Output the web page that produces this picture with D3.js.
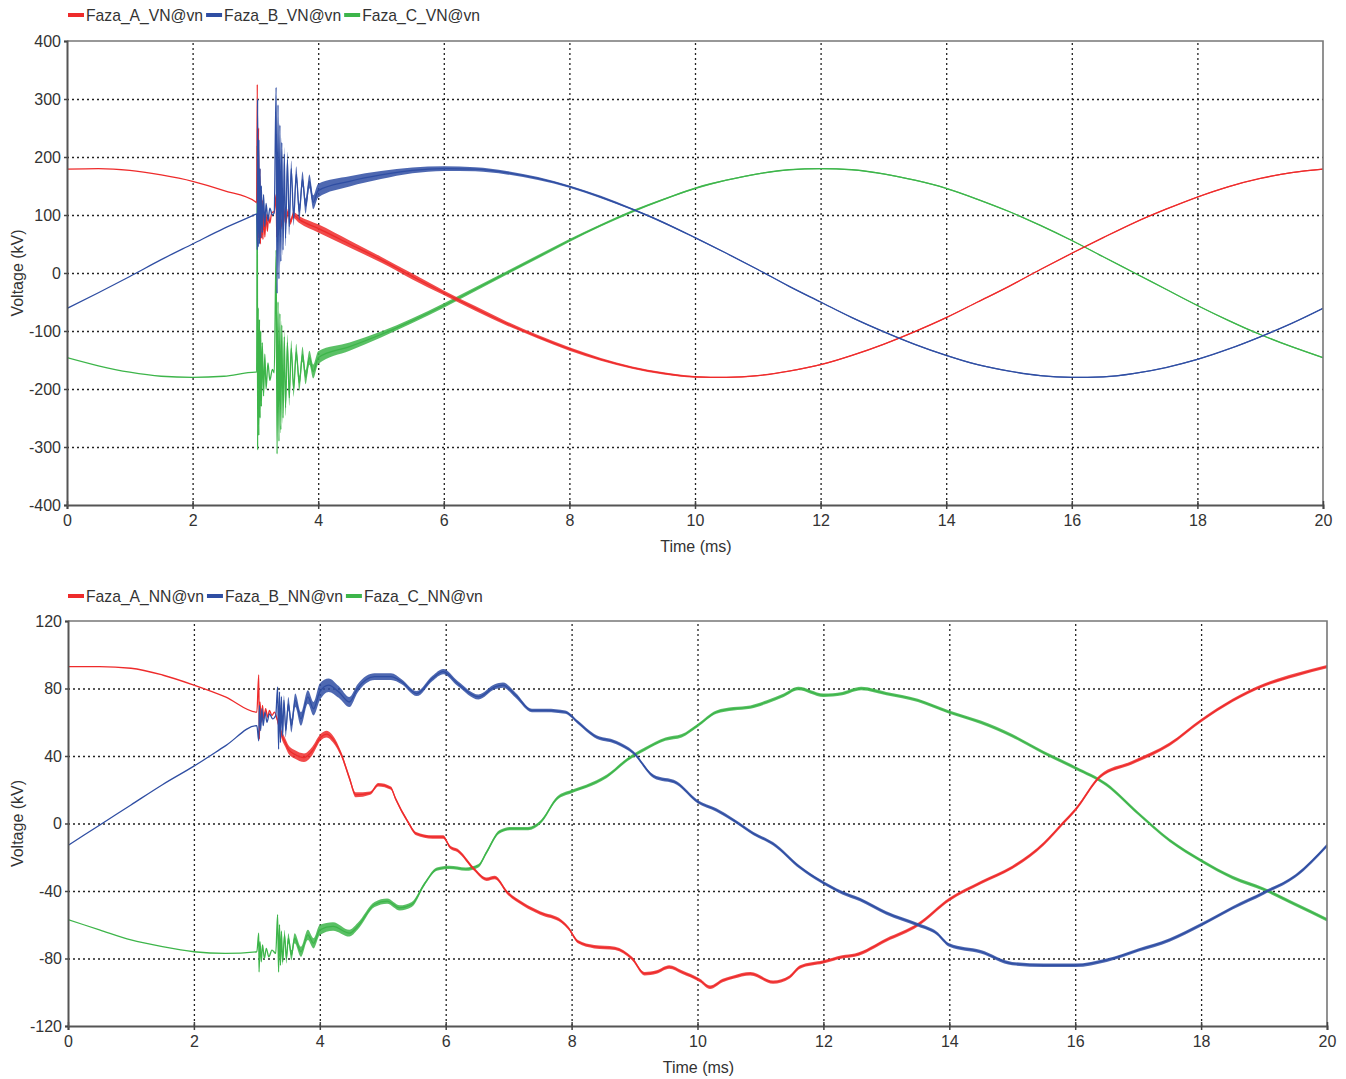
<!DOCTYPE html>
<html>
<head>
<meta charset="utf-8">
<script src="https://cdn.jsdelivr.net/npm/d3@7"></script>
<style>
  body { margin: 0; background: #fff; }
  svg text { font-family: "Liberation Sans", Arial, sans-serif; fill: #333; }
</style>
</head>
<body>
<svg id="chart" width="1346" height="1079"></svg>
<script>
// time axis (ms)
var timeTicks = [0, 2, 4, 6, 8, 10, 12, 14, 16, 18, 20];
var vnTicks = [-400, -300, -200, -100, 0, 100, 200, 300, 400];
var nnTicks = [-120, -80, -40, 0, 40, 80, 120];

var vnNames = ['Faza_A_VN@vn', 'Faza_B_VN@vn', 'Faza_C_VN@vn'];
var nnNames = ['Faza_A_NN@vn', 'Faza_B_NN@vn', 'Faza_C_NN@vn'];

// [time ms, kV, noise half-band kV]
var vnA = [
  [0,179,0],[0.5,180,0],[1,177,0],[1.5,169,0],[2,158,0],[2.5,142,0],[3,123,0],[3.02,121,0],
  [3.03,325,0],[3.04,60,0],[3.05,250,0],[3.06,55,0],[3.07,180,0],[3.08,50,0],[3.09,140,0],[3.1,60,0],
  [3.11,125,0],[3.12,58,0],[3.13,112,0],[3.15,62,0],[3.17,102,0],[3.19,72,0],[3.21,98,0],[3.23,86,0],
  [3.26,104,0],[3.3,106,0],[3.33,135,0],[3.34,62,0],[3.35,125,2],[3.37,70,3],[3.39,118,4],[3.42,80,5],
  [3.45,112,5],[3.48,86,5],[3.52,106,5],[3.56,88,5],[3.6,100,5],[3.7,92,6],
  [4,77,7],[4.5,50,6],[5,23,5],[5.5,-6,5],[6,-34,4],[6.5,-61,4],[7,-87,3.5],[7.5,-110,3],[8,-131,3],
  [8.5,-149,2.5],[9,-163,2],[9.5,-173,2],[10,-179,1.5],[10.5,-180,1],[11,-177,1],[11.5,-169,1],
  [12,-158,1],[12.5,-142,1],[13,-123,1],[13.5,-101,1],[14,-77,1],[14.5,-50,1],[15,-23,1],[15.5,6,1],
  [16,34,1],[16.5,61,1],[17,87,1],[17.5,110,1],[18,131,1],[18.5,149,1],[19,163,1],[19.5,173,1],[20,179,1]
];
var vnB = [
  [0,-61,0],[0.5,-34,0],[1,-6,0],[1.5,23,0],[2,50,0],[2.5,77,0],[3,101,0],[3.02,102,0],
  [3.03,40,0],[3.035,300,0],[3.045,45,0],[3.055,230,0],[3.065,50,0],[3.075,180,0],[3.085,60,0],
  [3.095,150,0],[3.11,70,0],[3.13,135,0],[3.15,80,0],[3.17,120,0],[3.2,90,0],[3.23,112,0],[3.27,100,0],
  [3.3,104,0],[3.33,320,0],[3.345,-35,0],[3.36,290,0],[3.375,-10,0],[3.39,255,4],[3.405,20,6],
  [3.42,225,8],[3.44,40,10],[3.46,205,12],[3.48,60,14],[3.51,195,14],[3.54,80,14],[3.57,180,14],[3.61,95,14],
  [3.65,170,14],[3.7,105,14],[3.75,162,13],[3.8,115,13],[3.86,158,12],[3.92,122,12],[4,142,12],
  [4.5,158,9],[5,169,7],[5.5,177,5],[6,180,4],[6.5,179,3.5],[7,173,3],[7.5,163,2.5],[8,149,2],
  [8.5,131,2],[9,110,1.5],[9.5,87,1.5],[10,61,1],[10.5,34,1],[11,6,1],[11.5,-23,1],[12,-50,1],
  [12.5,-77,1],[13,-101,1],[13.5,-123,1],[14,-142,1],[14.5,-158,1],[15,-169,1],[15.5,-177,1],
  [16,-180,1],[16.5,-179,1],[17,-173,1],[17.5,-163,1],[18,-149,1],[18.5,-131,1],[19,-110,1],
  [19.5,-87,1],[20,-61,1]
];
var vnC = [
  [0,-146,0],[0.5,-160,0],[1,-171,0],[1.5,-178,0],[2,-180,0],[2.5,-178,0],[3,-171,0],[3.02,-171,0],
  [3.03,220,0],[3.035,-305,0],[3.045,-60,0],[3.055,-280,0],[3.065,-80,0],[3.075,-250,0],[3.085,-100,0],
  [3.095,-230,0],[3.11,-120,0],[3.13,-212,0],[3.15,-140,0],[3.17,-200,0],[3.2,-155,0],[3.23,-185,0],
  [3.27,-166,0],[3.3,-172,0],[3.33,40,0],[3.345,-312,0],[3.36,-50,0],[3.375,-290,0],[3.39,-70,4],
  [3.405,-270,6],[3.42,-90,8],[3.44,-250,10],[3.46,-110,12],[3.48,-232,14],[3.51,-120,14],[3.54,-215,14],
  [3.57,-130,14],[3.61,-200,14],[3.65,-136,14],[3.7,-190,13],[3.75,-140,13],[3.8,-180,12],[3.86,-146,12],
  [3.92,-170,12],[4,-146,11],
  [4.5,-127,7],[5,-106,5],[5.5,-82,4],[6,-56,4],[6.5,-28,3.5],[7,0,3],[7.5,28,3],[8,56,2.5],
  [8.5,82,2],[9,106,2],[9.5,127,1.5],[10,146,1.5],[10.5,160,1],[11,171,1],[11.5,178,1],[12,180,1],
  [12.5,178,1],[13,171,1],[13.5,160,1],[14,146,1],[14.5,127,1],[15,106,1],[15.5,82,1],[16,56,1],
  [16.5,28,1],[17,0,1],[17.5,-28,1],[18,-56,1],[18.5,-82,1],[19,-106,1],[19.5,-127,1],[20,-146,1]
];

var nnA = [
  [0,93,0],[0.5,93,0],[1,92,0],[1.5,88,0],[2,82,0],[2.5,75,0],[3,66,0],
  [3.03,88,0],[3.04,50,0],[3.05,72,0],[3.07,60,0],[3.09,70,0],[3.11,62,0],[3.14,68,0],[3.17,63,0],
  [3.2,67,0],[3.24,64,0],[3.28,66,0],[3.32,62,1],[3.35,58,2],[3.4,52,2.5],[3.45,48,2.5],[3.5,44,2.5],
  [3.6,41,2.5],[3.75,39,2.5],[3.88,43,2.5],[4.01,51,2],[4.11,53,2],[4.21,50,2],[4.34,41,1.5],[4.47,27,1.5],
  [4.57,17,1.5],[4.8,18,1],[4.93,23,1],[5.13,21,1],[5.2,15,1],[5.4,1,1],[5.53,-6,1],
  [5.79,-8,1],[5.96,-8,1],[6.07,-14,1],[6.19,-16,1],[6.45,-27,1],[6.65,-33,1],
  [6.78,-32,1],[6.98,-41,1],[7.24,-48,1],[7.5,-53,1],[7.84,-58,1],[7.95,-62,1],
  [8.1,-70,1],[8.36,-73,1],[8.69,-74,1],[8.96,-80,1],[9.16,-89,1],[9.35,-88,1],
  [9.55,-85,1],[9.75,-88,1],[10.04,-93,1],[10.2,-97,1],[10.4,-93,1],[10.57,-91,1],
  [10.84,-89,1],[11.2,-94,1],[11.46,-91,1],[11.63,-85,1],[12,-82,1],[12.3,-79,1],
  [12.5,-78,1],[13,-69,1],[13.5,-60,1],[14,-45,1],[14.5,-35,1],[15,-26,1],[15.5,-12,1],
  [15.8,0,1],[16,8,1],[16.4,28,1],[16.9,36,1],[17.5,47,1],[18,61,1],[18.5,73,1],
  [19,82,1],[19.5,88,1],[20,93,1]
];
var nnB = [
  [0,-13,0],[0.5,-1,0],[1,11,0],[1.5,23,0],[2,34,0],[2.5,46,0],[3,58,0],
  [3.03,49,0],[3.04,70,0],[3.06,55,0],[3.08,68,0],[3.1,58,0],[3.13,66,0],[3.16,60,0],[3.2,65,0],
  [3.25,62,0],[3.3,64,0],[3.33,81,0],[3.345,44,0],[3.36,78,0],[3.375,48,0],[3.39,75,1],[3.41,52,2],
  [3.43,73,3],[3.46,55,4],[3.5,71,4],[3.55,58,4],[3.61,73,4],[3.7,62,4],[3.81,75,4],[3.9,68,4],
  [4,78,5],[4.14,82,4],[4.3,78,3.5],[4.47,72,3],[4.6,80,2.5],[4.87,87,2],[5.13,87,2],[5.3,84,1.5],
  [5.54,77,1.5],[5.79,86,1.5],[5.96,90,1.5],[6.19,83,1.5],[6.52,75,1.5],[6.78,81,1.5],[6.91,82,1.5],[7.11,76,1.5],
  [7.37,67,1],[7.6,67,1],[7.9,66,1],[8.1,60,1],[8.36,52,1],[8.71,48,1],[8.98,42,1],
  [9.3,28,1],[9.67,24,1],[10,13,1],[10.3,8,1],[10.57,2,1],[10.89,-6,1],[11.2,-12,1],
  [11.63,-26,1],[11.95,-34,1],[12.3,-41,1],[12.58,-45,1],[13,-53,1],[13.5,-60,1],
  [13.8,-65,1],[14,-72,1],[14.5,-76,1],[15,-83,1],[15.5,-84,1],[16,-84,1],[16.5,-81,1],
  [17,-75,1],[17.5,-69,1],[18,-60,1],[18.5,-50,1],[19,-41,1],[19.5,-31,1],[20,-13,1]
];
var nnC = [
  [0,-57,0],[0.5,-63,0],[1,-69,0],[1.5,-73,0],[2,-76,0],[2.5,-77,0],[3,-76,0],
  [3.03,-65,0],[3.035,-88,0],[3.05,-70,0],[3.07,-82,0],[3.09,-72,0],[3.12,-80,0],[3.15,-74,0],
  [3.19,-79,0],[3.24,-75,0],[3.3,-77,0],[3.33,-54,0],[3.345,-88,0],[3.36,-60,0],[3.375,-84,0],
  [3.39,-64,1],[3.41,-82,2],[3.44,-66,3],[3.47,-80,3],[3.5,-68,3],[3.55,-78,3],[3.6,-68,3],[3.7,-76,3],
  [3.81,-66,3],[3.9,-71,3],[4,-63,3],[4.21,-61,2.5],[4.47,-65,2],[4.6,-61,2],[4.87,-48,1.5],[5.07,-46,1.5],
  [5.27,-50,1.5],[5.46,-48,1.5],[5.66,-36,1],[5.86,-27,1],[6.06,-26,1],[6.32,-27,1],[6.52,-25,1],
  [6.65,-17,1],[6.85,-5,1],[7.04,-3,1],[7.31,-3,1],[7.51,1,1],[7.77,15,1],[8,19,1],
  [8.23,22,1],[8.56,28,1],[8.89,38,1],[9.16,44,1],[9.49,50,1],[9.75,52,1],[10,58,1],
  [10.3,66,1],[10.57,68,1],[10.84,69,1],[11.1,72,1],[11.37,76,1],[11.6,80,1],[12,76,1],
  [12.3,77,1],[12.6,80,1],[13,77,1],[13.5,73,1],[14,66,1],[14.5,60,1],[15,52,1],
  [15.5,42,1],[16,33,1],[16.5,23,1],[17,6,1],[17.5,-10,1],[18,-22,1],[18.5,-32,1],
  [19,-39,1],[19.5,-48,1],[20,-57,1]
];

var colors = ['#ee2b2b', '#2f4ea3', '#3db54a'];
var drawOrder = [2, 0, 1];

var svg = d3.select('#chart');

var panels = [
  { id: 'vn', left: 67, right: 1323, top: 41, bottom: 505, legendY: 15, ticks: vnTicks,
    names: vnNames, series: [vnA, vnB, vnC] },
  { id: 'nn', left: 68, right: 1327, top: 621, bottom: 1026, legendY: 596, ticks: nnTicks,
    names: nnNames, series: [nnA, nnB, nnC] }
];

panels.forEach(drawPanel);

function drawPanel(p) {
  var width = p.right - p.left;
  var height = p.bottom - p.top;

  var x = d3.scaleLinear().domain([0, 20]).range([p.left, p.right]);
  var y = d3.scaleLinear().domain([p.ticks[0], p.ticks[p.ticks.length - 1]]).range([p.bottom, p.top]);

  var g = svg.append('g');

  //--- GRID
  var gx = g.append('g')
    .attr('transform', 'translate(0,' + p.bottom + ')')
    .call(d3.axisBottom(x).tickValues(timeTicks.slice(1, -1)).tickSize(-height).tickFormat(''));
  var gy = g.append('g')
    .attr('transform', 'translate(' + p.left + ',0)')
    .call(d3.axisLeft(y).tickValues(p.ticks.slice(1, -1)).tickSize(-width).tickFormat(''));
  [gx, gy].forEach(function(s) {
    s.select('.domain').remove();
    s.selectAll('line')
      .attr('stroke', '#222')
      .attr('stroke-width', 1.3)
      .attr('stroke-dasharray', '2,3');
  });

  //--- CLIP
  g.append('clipPath').attr('id', 'clip-' + p.id)
    .append('rect').attr('x', p.left).attr('y', p.top).attr('width', width).attr('height', height);

  var area = d3.area()
    .x(function(d) { return x(d[0]); })
    .y0(function(d) { return y(d[1] - d[2]); })
    .y1(function(d) { return y(d[1] + d[2]); })
    .curve(d3.curveMonotoneX);
  var line = d3.line()
    .x(function(d) { return x(d[0]); })
    .y(function(d) { return y(d[1]); })
    .curve(d3.curveMonotoneX);

  var plot = g.append('g').attr('clip-path', 'url(#clip-' + p.id + ')');
  drawOrder.forEach(function(i) {
    plot.append('path')
      .datum(p.series[i])
      .attr('d', area)
      .attr('fill', colors[i])
      .attr('opacity', 0.85);
    plot.append('path')
      .datum(p.series[i])
      .attr('d', line)
      .attr('fill', 'none')
      .attr('stroke', colors[i])
      .attr('stroke-width', 1.3);
  });

  //--- FRAME
  g.append('path')
    .attr('d', 'M' + p.left + ',' + p.top + 'H' + p.right + 'V' + p.bottom)
    .attr('fill', 'none').attr('stroke', '#777').attr('stroke-width', 1.6);

  //--- AXES
  var ax = g.append('g')
    .attr('transform', 'translate(0,' + p.bottom + ')')
    .call(d3.axisBottom(x).tickValues(timeTicks).tickSizeOuter(0).tickSize(4).tickPadding(6)
      .tickFormat(function(d) { return String(d); }));
  ax.selectAll('.tick line').attr('y1', -4).attr('y2', 4);
  var ay = g.append('g')
    .attr('transform', 'translate(' + p.left + ',0)')
    .call(d3.axisLeft(y).tickValues(p.ticks).tickSizeOuter(0).tickSize(3).tickPadding(3)
      .tickFormat(function(d) { return String(d); }));
  [ax, ay].forEach(function(s) {
    s.select('.domain').attr('stroke', '#555').attr('stroke-width', 2);
    s.selectAll('.tick line').attr('stroke', '#444').attr('stroke-width', 1.5);
    s.selectAll('.tick text')
      .style('font-size', '16px')
      .style('font-family', '"Liberation Sans", Arial, sans-serif')
      .attr('fill', '#333');
  });

  //--- TITLES
  g.append('text')
    .attr('x', (p.left + p.right) / 2 + 1)
    .attr('y', p.bottom + 47)
    .attr('text-anchor', 'middle')
    .style('font-size', '16px')
    .text('Time (ms)');
  g.append('text')
    .attr('transform', 'translate(23,' + ((p.top + p.bottom) / 2) + ') rotate(-90)')
    .attr('text-anchor', 'middle')
    .style('font-size', '16px')
    .text('Voltage (kV)');

  //--- LEGEND
  var lx = 68;
  p.names.forEach(function(name, i) {
    g.append('line')
      .attr('x1', lx).attr('x2', lx + 16)
      .attr('y1', p.legendY).attr('y2', p.legendY)
      .attr('stroke', colors[i]).attr('stroke-width', 4);
    var t = g.append('text')
      .attr('x', lx + 18)
      .attr('y', p.legendY + 6)
      .style('font-size', '15.7px')
      .text(name);
    lx += 18 + t.node().getComputedTextLength() + 3;
  });
}
</script>
</body>
</html>
